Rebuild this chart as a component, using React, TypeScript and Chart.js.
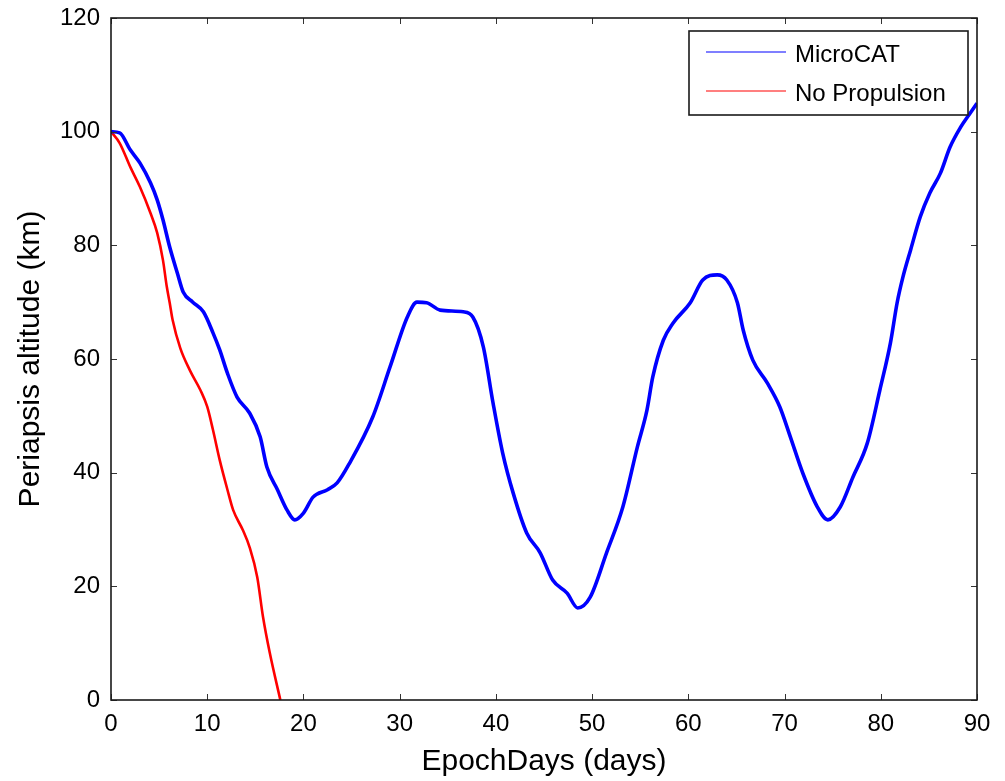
import React, { useEffect, useRef } from "react";
import { Chart, registerables } from "chart.js";

Chart.register(...registerables);

const microcatX = [0, 0.9, 2, 3, 4.1, 4.8, 5.4, 6.1, 6.9, 7.5, 8.5, 9.6, 10.6, 11.3, 12.1, 13.1, 14.4, 15.5, 16.2, 17.3, 18.3, 19.1, 20, 21, 22.5, 23.5, 24.8, 27.2, 29, 30.8, 31.8, 32.8, 34.2, 36.6, 37.6, 38.7, 39.7, 40.7, 41.8, 43.2, 44.6, 45.9, 47.4, 48.5, 49.8, 51.5, 53.2, 54.7, 55.7, 56.3, 57.4, 58.4, 60.2, 61.5, 63, 64, 65.1, 65.7, 66.7, 68.2, 69.5, 70.6, 71.9, 73.4, 74.5, 75.8, 77.1, 78.6, 79.9, 81, 81.7, 82.3, 83.1, 84.1, 85.1, 86.2, 87.2, 88.3, 89.3, 90];
const microcatY = [100, 99.8, 96.8, 94.5, 91, 88, 84.5, 79.7, 75.1, 71.8, 70, 68.3, 64.6, 61.6, 57.5, 53.3, 50.5, 46.3, 41, 37, 33.4, 31.7, 32.9, 35.7, 37, 38.2, 41.7, 49.8, 58.6, 67.4, 70, 69.9, 68.6, 68.3, 67.4, 62.1, 52.3, 43.5, 36.4, 29.4, 25.9, 21.1, 18.8, 16.2, 18.1, 25.9, 34, 44.5, 51, 56.8, 63.3, 66.3, 69.9, 73.9, 74.8, 73.9, 69.9, 65.1, 59.8, 55.8, 51.6, 46.3, 39.9, 34, 31.7, 34, 39.2, 45.2, 54.5, 62.8, 69.9, 74.4, 79.2, 85, 89.2, 92.7, 97.3, 100.8, 103.3, 105];

const noPropX = [0, 0.9, 2, 3, 4.1, 4.8, 5.4, 5.8, 6.1, 6.4, 7.2, 8.2, 9.3, 10, 10.6, 11.3, 12.1, 12.7, 13.7, 14.4, 15.2, 15.8, 16.5, 17.6];
const noPropY = [100, 98, 93.8, 90.3, 85.7, 82.2, 77.4, 72.7, 69.9, 66.9, 61.9, 58, 54.5, 51.6, 47.5, 42.2, 37, 33.4, 29.9, 26.9, 21.6, 14.6, 8.3, 0];

const seriesNames = ["MicroCAT", "No Propulsion"];
const xTicks = [0, 10, 20, 30, 40, 50, 60, 70, 80, 90];
const yTicks = [0, 20, 40, 60, 80, 100, 120];
const xTitle = "EpochDays (days)";
const yTitle = "Periapsis altitude (km)";

const FONT = "'Liberation Sans', Arial, Helvetica, sans-serif";

const framePlugin = {
  id: "matlabFrame",
  afterDatasetsDraw(chart: any) {
    const { ctx, chartArea: a, scales } = chart;
    const xs = scales.x;
    const ys = scales.y;
    ctx.save();
    ctx.strokeStyle = "#333";
    ctx.lineWidth = 1;
    const tl = 6;
    ctx.beginPath();
    xTicks.forEach((v) => {
      const px = Math.round(xs.getPixelForValue(v)) + 0.5;
      ctx.moveTo(px, a.bottom);
      ctx.lineTo(px, a.bottom - tl);
      ctx.moveTo(px, a.top);
      ctx.lineTo(px, a.top + tl);
    });
    yTicks.forEach((v) => {
      const py = Math.round(ys.getPixelForValue(v)) + 0.5;
      ctx.moveTo(a.left, py);
      ctx.lineTo(a.left + tl, py);
      ctx.moveTo(a.right, py);
      ctx.lineTo(a.right - tl, py);
    });
    ctx.stroke();
    ctx.strokeStyle = "#1a1a1a";
    ctx.lineWidth = 1.6;
    ctx.strokeRect(a.left, a.top, a.right - a.left, a.bottom - a.top);

    // legend
    const bw = 279;
    const bh = 84;
    const bx = a.right - 9 - bw;
    const by = a.top + 13;
    ctx.fillStyle = "#fff";
    ctx.fillRect(bx, by, bw, bh);
    ctx.strokeStyle = "#1a1a1a";
    ctx.lineWidth = 1.6;
    ctx.strokeRect(bx, by, bw, bh);
    const colors = ["#7f7fff", "#ff7f7f"];
    const rows = [by + 21, by + 60];
    ctx.font = `24px ${FONT}`;
    ctx.textBaseline = "middle";
    ctx.textAlign = "left";
    seriesNames.forEach((name, i) => {
      ctx.strokeStyle = colors[i];
      ctx.lineWidth = 2;
      ctx.beginPath();
      ctx.moveTo(bx + 17, rows[i]);
      ctx.lineTo(bx + 97, rows[i]);
      ctx.stroke();
      ctx.fillStyle = "#000";
      ctx.fillText(name, bx + 106, rows[i] + 3);
    });
    ctx.restore();
  },
};

export default function App() {
  const ref = useRef<HTMLCanvasElement>(null);
  useEffect(() => {
    if (!ref.current) return;
    const chart = new Chart(ref.current, {
      type: "line",
      data: {
        datasets: [
          {
            label: seriesNames[0],
            data: microcatX.map((x, i) => ({ x, y: microcatY[i] })),
            borderColor: "#0000ff",
            borderWidth: 3.6,
            pointRadius: 0,
            cubicInterpolationMode: "monotone",
            fill: false,
          },
          {
            label: seriesNames[1],
            data: noPropX.map((x, i) => ({ x, y: noPropY[i] })),
            borderColor: "#ff0000",
            borderWidth: 2.6,
            pointRadius: 0,
            cubicInterpolationMode: "monotone",
            fill: false,
          },
        ],
      },
      options: {
        responsive: false,
        animation: false,
        devicePixelRatio: 1,
        layout: { padding: { left: 0, top: 18, right: 28, bottom: 0 } },
        plugins: { legend: { display: false }, tooltip: { enabled: false } },
        scales: {
          x: {
            type: "linear",
            min: 0,
            max: 90,
            grid: { display: false, drawTicks: false },
            border: { display: false },
            afterBuildTicks: (s: any) => {
              s.ticks = xTicks.map((v) => ({ value: v }));
            },
            afterFit: (s: any) => {
              s.height = 81;
              s.paddingLeft = 0;
              s.paddingRight = 0;
            },
            ticks: {
              padding: 10,
              color: "#000",
              font: { family: FONT, size: 24 },
              maxRotation: 0,
              autoSkip: false,
            },
            title: {
              display: true,
              text: xTitle,
              color: "#000",
              font: { family: FONT, size: 30 },
              padding: { top: 0, bottom: 1 },
            },
          },
          y: {
            type: "linear",
            min: 0,
            max: 120,
            grid: { display: false, drawTicks: false },
            border: { display: false },
            afterBuildTicks: (s: any) => {
              s.ticks = yTicks.map((v) => ({ value: v }));
            },
            afterFit: (s: any) => {
              s.width = 111;
              s.paddingTop = 0;
              s.paddingBottom = 0;
            },
            ticks: {
              padding: 11,
              color: "#000",
              font: { family: FONT, size: 24 },
              autoSkip: false,
            },
            title: {
              display: true,
              text: yTitle,
              color: "#000",
              font: { family: FONT, size: 30 },
              padding: { top: 13, bottom: 0 },
            },
          },
        },
      },
      plugins: [framePlugin],
    } as any);
    return () => chart.destroy();
  }, []);
  return (
    <div style={{ position: "absolute", left: 0, top: 0, width: 1005, height: 781, background: "#fff" }}>
      <canvas ref={ref} width={1005} height={781} style={{ display: "block" }} />
    </div>
  );
}
